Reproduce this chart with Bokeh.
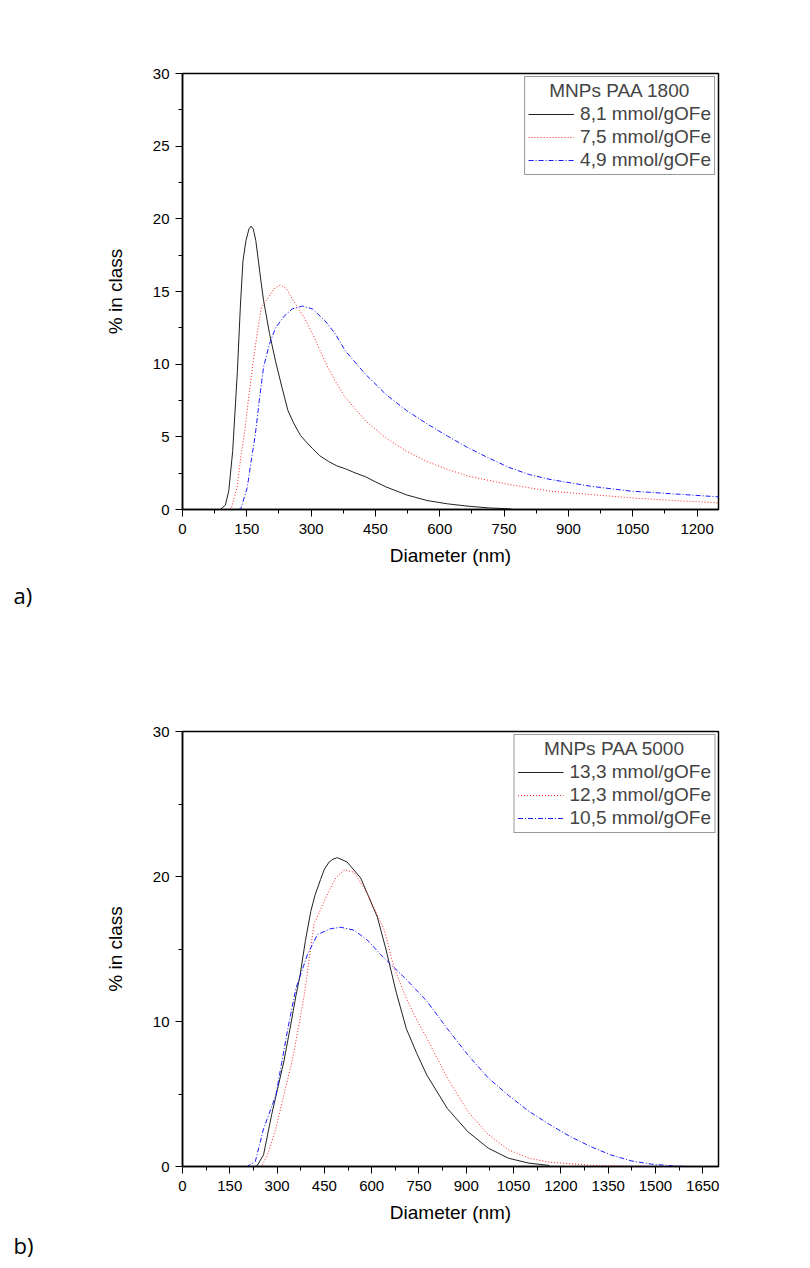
from bokeh.plotting import figure
from bokeh.layouts import column
from bokeh.models import Legend, LegendItem, Title, SingleIntervalTicker, Range1d
from bokeh.embed import file_html
from bokeh.resources import INLINE

# ---------------- Panel a) MNPs PAA 1800 ----------------
a_x_81 = [88, 100, 108, 117, 128, 135, 141, 148, 155, 160, 165, 171, 177, 183, 189, 203, 217, 232,
          246, 260, 275, 290, 303, 320, 341, 360, 380, 400, 427, 450, 475, 523, 570, 618, 666, 713, 761, 771]
a_y_81 = [0.0, 0.3, 1.3, 4.0, 9.5, 14.0, 17.1, 18.5, 19.3, 19.5, 19.3, 18.5, 17.1, 15.7, 14.4, 12.1, 10.2, 8.4,
          6.8, 5.9, 5.1, 4.6, 4.2, 3.7, 3.3, 3.0, 2.8, 2.55, 2.25, 1.9, 1.55, 1.0, 0.62, 0.39, 0.23, 0.11, 0.05, 0.0]

a_x_75 = [110, 114, 127, 136, 146, 155, 165, 175, 184, 200, 214, 228, 242, 258, 284, 308, 332, 356, 380,
          427, 475, 523, 570, 618, 666, 761, 857, 952, 1047, 1143, 1250]
a_y_75 = [0.0, 0.1, 1.5, 3.6, 5.6, 7.9, 10.2, 12.3, 13.9, 14.6, 15.2, 15.45, 15.2, 14.4, 13.2, 11.8, 10.2, 8.85, 7.7,
          6.1, 4.9, 4.0, 3.3, 2.76, 2.3, 1.72, 1.26, 1.03, 0.8, 0.62, 0.46]

a_x_49 = [130, 136, 151, 160, 170, 179, 189, 203, 217, 237, 256, 280, 303, 332, 356, 380, 427, 475, 523,
          570, 618, 666, 713, 761, 809, 857, 952, 1047, 1143, 1250]
a_y_49 = [0.0, 0.05, 1.5, 3.3, 5.2, 7.5, 9.8, 11.4, 12.5, 13.3, 13.8, 14.0, 13.8, 13.0, 12.1, 10.9, 9.3, 7.9, 6.8,
          5.9, 5.05, 4.25, 3.56, 2.9, 2.4, 2.07, 1.6, 1.26, 1.08, 0.87]

# ---------------- Panel b) MNPs PAA 5000 ----------------
b_x_133 = [75, 230, 237, 257, 283, 302, 321, 341, 360, 373, 390, 407, 420, 438, 450, 465, 478, 491, 522, 565,
           618, 645, 678, 710, 743, 775, 840, 905, 970, 1034, 1099, 1164]
b_y_133 = [0.0, 0.0, 0.07, 0.8, 3.6, 5.4, 7.2, 9.5, 11.8, 13.2, 15.6, 17.6, 18.7, 19.8, 20.5, 21.0, 21.2, 21.3,
           21.0, 19.9, 17.2, 15.0, 12.0, 9.5, 7.8, 6.3, 4.0, 2.4, 1.26, 0.57, 0.23, 0.07]

b_x_123 = [75, 250, 270, 296, 321, 347, 367, 386, 417, 460, 486, 512, 544, 587, 640, 671, 710, 743,
           775, 840, 905, 970, 1034, 1099, 1164, 1294, 1423, 1700]
b_y_123 = [0.0, 0.0, 0.8, 2.6, 4.9, 7.2, 9.5, 11.8, 16.7, 18.8, 19.9, 20.45, 20.3, 18.8, 16.3, 13.7, 11.6, 10.1,
           8.85, 6.1, 3.8, 2.2, 1.15, 0.57, 0.3, 0.09, 0.02, 0.0]

b_x_105 = [75, 205, 231, 257, 296, 315, 334, 360, 396, 428, 470, 502, 544, 587, 629, 672, 710, 775,
           840, 905, 970, 1034, 1099, 1164, 1229, 1294, 1358, 1423, 1488, 1553, 1600, 1700]
b_y_105 = [0.0, 0.0, 0.35, 2.6, 4.9, 7.2, 9.5, 12.3, 14.6, 16.0, 16.4, 16.5, 16.3, 15.6, 14.6, 13.7, 12.9, 11.4,
           9.5, 7.7, 6.1, 4.9, 3.8, 2.9, 2.07, 1.38, 0.8, 0.39, 0.16, 0.05, 0.0, 0.0]

labels_a = ["8,1 mmol/gOFe", "7,5 mmol/gOFe", "4,9 mmol/gOFe"]
labels_b = ["13,3 mmol/gOFe", "12,3 mmol/gOFe", "10,5 mmol/gOFe"]
title_a = "MNPs PAA 1800"
title_b = "MNPs PAA 5000"

FONT = "Liberation Sans"
NB = "\u00a0"
STYLES = [dict(line_color="#222222", line_width=1.0),
          dict(line_color="#ff2020", line_width=1.0, line_dash="1 2"),
          dict(line_color="#1a1aff", line_width=1.0, line_dash="5 2 1 2")]


def make_panel(height, top, bottom, xmax, xint, yint, series, labels, title, pad, tag, tag_standoff):
    p = figure(width=810, height=height, output_backend="svg", toolbar_location=None,
               x_range=Range1d(0, xmax), y_range=Range1d(0, 30),
               min_border_left=182, min_border_right=92, min_border_top=top, min_border_bottom=bottom)
    p.background_fill_color = "white"
    p.border_fill_color = "white"
    p.outline_line_color = "black"
    p.outline_line_width = 1.5
    p.xgrid.visible = False
    p.ygrid.visible = False
    p.xaxis.ticker = SingleIntervalTicker(interval=xint, num_minor_ticks=2)
    p.yaxis.ticker = SingleIntervalTicker(interval=yint, num_minor_ticks=2)
    p.xaxis.axis_label = "Diameter (nm)"
    p.yaxis.axis_label = "% in class"
    for ax in (p.xaxis, p.yaxis):
        ax.axis_line_width = 1.5
        ax.axis_line_color = "black"
        ax.major_tick_in = 0
        ax.major_tick_out = 7
        ax.minor_tick_in = 0
        ax.minor_tick_out = 4
        ax.major_tick_line_color = "black"
        ax.minor_tick_line_color = "black"
        ax.major_label_text_font = FONT
        ax.major_label_text_font_size = "15px"
        ax.major_label_text_color = "black"
        ax.axis_label_text_font = FONT
        ax.axis_label_text_font_size = "19px"
        ax.axis_label_text_font_style = "normal"
        ax.axis_label_text_color = "black"
    p.xaxis.major_label_standoff = 7
    p.xaxis.axis_label_standoff = 8
    p.yaxis.major_label_standoff = 6
    p.yaxis.axis_label_standoff = 24

    items = []
    for (xs, ys), lab, st in zip(series, labels, STYLES):
        r = p.line(xs, ys, **st)
        items.append(LegendItem(label=lab, renderers=[r]))

    leg = Legend(items=items, location="top_right", title=NB * pad + title)
    leg.title_text_font = FONT
    leg.title_text_font_size = "19px"
    leg.title_text_font_style = "normal"
    leg.title_standoff = 1
    leg.label_text_font = FONT
    leg.label_text_font_size = "19px"
    leg.glyph_width = 46
    leg.glyph_height = 22
    leg.label_height = 22
    leg.label_standoff = 6
    leg.spacing = 1
    leg.padding = 3
    leg.margin = 3
    leg.border_line_color = "#333333"
    leg.border_line_width = 1
    leg.background_fill_color = "white"
    leg.background_fill_alpha = 1.0
    p.add_layout(leg)

    t = Title(text=tag, align="left", offset=13 - 182, standoff=tag_standoff,
              text_font="Open Sans", text_font_size="22px", text_font_style="normal", text_color="black")
    p.add_layout(t, "below")
    return p


pa = make_panel(620, 73, 111, 1250, 150, 5,
                [(a_x_81, a_y_81), (a_x_75, a_y_75), (a_x_49, a_y_49)],
                labels_a, title_a, 4, "a)", 19)
pb = make_panel(648, 111, 102, 1700, 150, 10,
                [(b_x_133, b_y_133), (b_x_123, b_y_123), (b_x_105, b_y_105)],
                labels_b, title_b, 5, "b)", 5)

layout = column(pa, pb, spacing=0)
open("out.html", "w").write(file_html(layout, INLINE))
